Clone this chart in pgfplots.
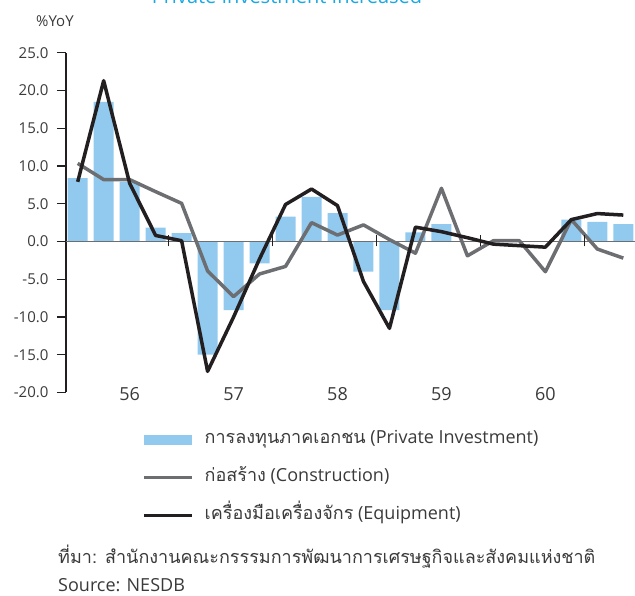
\documentclass[border=0pt]{standalone}
\usepackage{pgfplots}
\pgfplotsset{compat=1.18}
\usepackage{fontspec}
\setmainfont{Open Sans}
\newfontfamily\thai[Script=Thai]{Loma}
\definecolor{barblue}{HTML}{92C9EE}
\definecolor{congray}{HTML}{6D6E71}
\definecolor{eqblack}{HTML}{231F20}
\definecolor{titlecyan}{HTML}{1BA8E0}
\definecolor{txtgray}{HTML}{3A3A3A}
\pgfplotsset{
  lineleg/.style={legend image code/.code={\draw[##1] (0pt,0pt) -- (48pt,0pt);}},
  barleg/.style={legend image code/.code={\fill[barblue] (0pt,-5pt) rectangle (48pt,5pt);}},
}
\begin{document}
\begin{tikzpicture}[x=1pt,y=1pt]
\path[use as bounding box] (0,0) rectangle (635,596);
\node[anchor=base, text=titlecyan, font=\fontsize{20}{24}\selectfont] at (287,592) {Private Investment Increased};
\node[anchor=base west, inner sep=0pt, text=txtgray, font=\fontsize{15}{18}\selectfont] at (36,569) {\%YoY};
\begin{axis}[
  at={(66pt,203.5pt)}, anchor=south west,
  scale only axis, width=569pt, height=339.75pt,
  xmin=-0.45, xmax=21.45, ymin=-20, ymax=25,
  axis y line*=left, axis x line*=bottom,
  x axis line style={draw=none},
  y axis line style={eqblack, line width=1.3pt},
  xtick={2,6,10,14,18}, xticklabels={56,57,58,59,60},
  xtick style={draw=none},
  ytick={-20,-15,-10,-5,0,5,10,15,20,25},
  ytick style={eqblack, line width=1.1pt},
  tick align=outside, major tick length=9pt,
  /pgf/number format/assume math mode=true,
  yticklabel style={/pgf/number format/fixed, /pgf/number format/fixed zerofill, /pgf/number format/precision=1, font=\fontsize{15}{18}\selectfont, text=txtgray, xshift=-5pt},
  xticklabel style={font=\fontsize{18}{21}\selectfont, text=txtgray, anchor=base, yshift=1pt},
  clip=false,
  legend style={at={(0.1336,-0.112)}, anchor=north west, draw=none, fill=none, inner sep=0pt,
    font=\fontsize{18}{21}\selectfont, text=txtgray,
    nodes={inner sep=0pt, text height=13pt, text depth=5pt},
    column sep=11pt, row sep=20pt},
  legend cell align=left,
]
\addplot[ybar, bar width=20pt, fill=barblue, draw=none, barleg]
  coordinates {(0,8.4) (1,18.5) (2,7.9) (3,1.85) (4,1.1) (5,-15.0) (6,-9.1) (7,-2.9)
  (8,3.3) (9,5.9) (10,3.75) (11,-4.0) (12,-9.1) (13,1.2) (14,2.3)
  (19,2.9) (20,2.6) (21,2.3)};
\addlegendentry{{\thai การลงทุนภาคเอกชน} (Private Investment)}
\addplot[congray, line width=1.5pt, forget plot] coordinates {(-0.45,0) (21.45,0)};
\addplot[congray, line width=3.5pt, line join=round, lineleg]
  coordinates {(0,10.35) (1,8.2) (2,8.2) (3,6.6) (4,5.05) (5,-3.9) (6,-7.3) (7,-4.3)
  (8,-3.3) (9,2.5) (10,0.85) (11,2.2) (12,0.25) (13,-1.55) (14,7.05) (15,-1.9)
  (16,0.1) (17,0.1) (18,-4.0) (19,2.9) (20,-1.0) (21,-2.2)};
\addlegendentry{{\thai ก่อสร้าง} (Construction)}
\addplot[eqblack, line width=3.5pt, line join=round, lineleg]
  coordinates {(0,7.9) (1,21.3) (2,7.7) (3,0.8) (4,0.1) (5,-17.2) (6,-10.0) (7,-2.3)
  (8,4.9) (9,6.95) (10,4.75) (11,-5.3) (12,-11.5) (13,1.9) (14,1.3) (15,0.5)
  (16,-0.35) (17,-0.55) (18,-0.75) (19,2.9) (20,3.7) (21,3.5)};
\addlegendentry{{\thai เครื่องมือเครื่องจักร} (Equipment)}
\draw[eqblack, line width=1pt] (axis cs:3.5,0) ++(0pt,-5pt) -- ++(0pt,11pt);
\draw[eqblack, line width=1pt] (axis cs:7.5,0) ++(0pt,-5pt) -- ++(0pt,11pt);
\draw[eqblack, line width=1pt] (axis cs:11.5,0) ++(0pt,-5pt) -- ++(0pt,11pt);
\draw[eqblack, line width=1pt] (axis cs:15.5,0) ++(0pt,-5pt) -- ++(0pt,11pt);
\draw[eqblack, line width=1pt] (axis cs:19.5,0) ++(0pt,-5pt) -- ++(0pt,11pt);
\end{axis}
\node[anchor=base west, inner sep=0pt, text=txtgray, font=\fontsize{18}{22}\selectfont] at (58,32) {\thai ที่มา: สำนักงานคณะกรรรมการพัฒนาการเศรษฐกิจและสังคมแห่งชาติ};
\node[anchor=base west, inner sep=0pt, text=txtgray, font=\fontsize{18}{22}\selectfont] at (58,4) {Source: NESDB};
\end{tikzpicture}
\end{document}
